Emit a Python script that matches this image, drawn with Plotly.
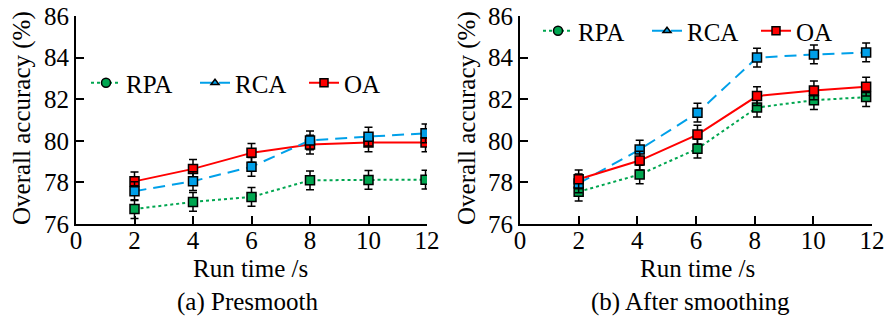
import plotly.graph_objects as go

# ---------------- data ----------------
series_names = ["RPA", "RCA", "OA"]

# (a) Presmooth
x_a = [2, 4, 6, 8, 10, 11.95]
rpa_a = [76.72, 77.06, 77.30, 78.10, 78.12, 78.13]
rca_a = [77.58, 78.06, 78.75, 80.02, 80.20, 80.36]
oa_a = [78.05, 78.65, 79.42, 79.82, 79.92, 79.92]
err_a = [0.45, 0.45, 0.45, 0.45, 0.45, 0.45]

# (b) After smoothing
x_b = [2, 4.08, 6.05, 8.08, 10.02, 11.8]
rpa_b = [77.55, 78.38, 79.62, 81.60, 81.95, 82.10]
rca_b = [77.95, 79.58, 81.35, 84.00, 84.15, 84.25]
oa_b = [78.15, 79.05, 80.30, 82.15, 82.42, 82.60]
err_b = [0.45, 0.45, 0.45, 0.45, 0.45, 0.45]

x_ticks = [0, 2, 4, 6, 8, 10, 12]
y_ticks = [76, 78, 80, 82, 84, 86]
x_title = "Run time /s"
y_title = "Overall accuracy (%)"
captions = ["(a) Presmooth", "(b) After smoothing"]

colors = {"RPA": "#00a650", "RCA": "#00a0e9", "OA": "#ff0000"}
dashes = {"RPA": "dot", "RCA": "12px,7px", "OA": "solid"}
legend_symbols = {"RPA": "circle", "RCA": "triangle-up", "OA": "square"}
legend_sizes = {"RPA": 9, "RCA": 7, "OA": 8}

FONT = "Liberation Serif"
FS = 25

fig = go.Figure()


def add_panel(xs, data, err, xa, ya, legend_name, order):
    for name in order:
        fig.add_trace(go.Scatter(
            x=xs, y=data[name], mode="lines+markers",
            xaxis=xa, yaxis=ya, showlegend=False,
            line=dict(color=colors[name], width=2, dash=dashes[name]),
            marker=dict(symbol="square", size=9, color=colors[name],
                        line=dict(color="black", width=1.5)),
            error_y=dict(type="data", array=err, color="black",
                         thickness=1.5, width=4),
        ))
    for name in series_names:
        fig.add_trace(go.Scatter(
            x=[None], y=[None], mode="lines+markers", name=name,
            xaxis=xa, yaxis=ya, legend=legend_name, showlegend=True,
            line=dict(color=colors[name], width=2, dash=dashes[name]),
            marker=dict(symbol=legend_symbols[name], size=legend_sizes[name],
                        color=colors[name], line=dict(color="black", width=1.5)),
        ))


add_panel(x_a, {"RPA": rpa_a, "RCA": rca_a, "OA": oa_a}, err_a, "x", "y",
          "legend", ["RPA", "OA", "RCA"])
add_panel(x_b, {"RPA": rpa_b, "RCA": rca_b, "OA": oa_b}, err_b, "x2", "y2",
          "legend2", ["RPA", "RCA", "OA"])

axis_common = dict(
    showline=True, linecolor="black", linewidth=2, mirror=False,
    ticks="inside", ticklen=8, tickwidth=1.5, tickcolor="black",
    showgrid=False, zeroline=False,
    tickfont=dict(family=FONT, size=FS, color="black"),
    automargin=False,
)

W, H = 889, 320
fig.update_layout(
    width=W, height=H,
    margin=dict(l=0, r=0, t=0, b=0),
    paper_bgcolor="white", plot_bgcolor="white",
    font=dict(family=FONT, size=FS, color="black"),
    xaxis=dict(domain=[76 / W, 427 / W], range=[0, 12], tickvals=x_ticks,
               anchor="y", ticklabelstandoff=-7, **axis_common),
    yaxis=dict(domain=[1 - 224 / H, 1 - 16 / H], range=[76, 86], tickvals=y_ticks,
               anchor="x", **axis_common),
    xaxis2=dict(domain=[520 / W, 872 / W], range=[0, 12], tickvals=x_ticks,
                anchor="y2", ticklabelstandoff=-7, **axis_common),
    yaxis2=dict(domain=[1 - 224 / H, 1 - 16 / H], range=[76, 86], tickvals=y_ticks,
                anchor="x2", **axis_common),
    legend=dict(orientation="h", x=86 / W, y=1 - 83 / H, xanchor="left", yanchor="middle",
                bgcolor="rgba(0,0,0,0)", font=dict(family=FONT, size=FS),
                entrywidth=64, entrywidthmode="pixels", itemwidth=30),
    legend2=dict(orientation="h", x=538 / W, y=1 - 31 / H, xanchor="left", yanchor="middle",
                 bgcolor="rgba(0,0,0,0)", font=dict(family=FONT, size=FS),
                 entrywidth=64, entrywidthmode="pixels", itemwidth=30),
)

annotations = []
for cx in [251, 697]:
    annotations.append(dict(text=x_title, x=cx / W, y=1 - 268 / H, xref="paper", yref="paper",
                            showarrow=False, xanchor="center", yanchor="middle",
                            font=dict(family=FONT, size=FS, color="black")))
for cx, cap in [(247, captions[0]), (690, captions[1])]:
    annotations.append(dict(text=cap, x=cx / W, y=1 - 302 / H, xref="paper", yref="paper",
                            showarrow=False, xanchor="center", yanchor="middle",
                            font=dict(family=FONT, size=FS, color="black")))
for cx in [22, 467]:
    annotations.append(dict(text=y_title, x=cx / W, y=1 - 118 / H, xref="paper", yref="paper",
                            showarrow=False, xanchor="center", yanchor="middle", textangle=-90,
                            font=dict(family=FONT, size=FS, color="black")))
fig.update_layout(annotations=annotations)

fig.write_html("out.html")
